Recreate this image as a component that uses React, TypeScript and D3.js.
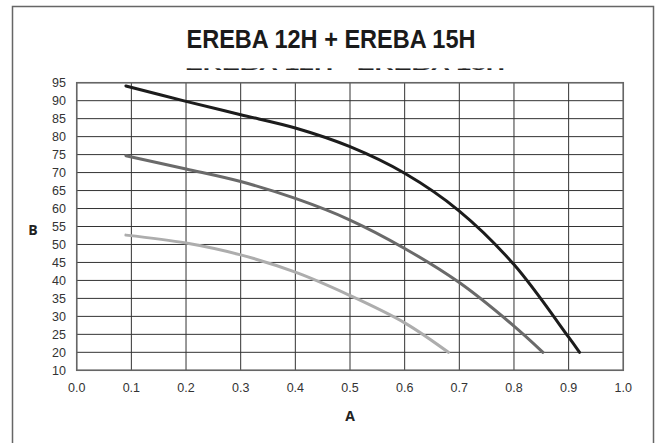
import { useEffect, useRef } from "react";
import * as d3 from "d3";

type Pt = { x: number; y: number };

const xTicks = [0, 0.1, 0.2, 0.3, 0.4, 0.5, 0.6, 0.7, 0.8, 0.9, 1.0];
const yTicks = [10, 20, 25, 30, 35, 40, 45, 50, 55, 60, 65, 70, 75, 80, 85, 90, 95];

// curves
const blackCurve: Pt[] = [
  { x: 0.09, y: 94.1 },
  { x: 0.2, y: 89.8 },
  { x: 0.3, y: 86.1 },
  { x: 0.4, y: 82.4 },
  { x: 0.5, y: 77.2 },
  { x: 0.6, y: 69.8 },
  { x: 0.7, y: 59.3 },
  { x: 0.8, y: 44.4 },
  { x: 0.9, y: 24.2 },
  { x: 0.92, y: 20 },
];
const darkCurve: Pt[] = [
  { x: 0.09, y: 74.7 },
  { x: 0.2, y: 71.0 },
  { x: 0.3, y: 67.5 },
  { x: 0.4, y: 62.8 },
  { x: 0.5, y: 56.8 },
  { x: 0.6, y: 48.9 },
  { x: 0.7, y: 39.4 },
  { x: 0.8, y: 27.3 },
  { x: 0.853, y: 20 },
];
const lightCurve: Pt[] = [
  { x: 0.09, y: 52.6 },
  { x: 0.2, y: 50.4 },
  { x: 0.3, y: 47.1 },
  { x: 0.4, y: 42.3 },
  { x: 0.5, y: 35.8 },
  { x: 0.6, y: 28.2 },
  { x: 0.68, y: 20 },
];

const series = [
  { data: blackCurve, color: "#1c1c1c" },
  { data: darkCurve, color: "#6a6a6a" },
  { data: lightCurve, color: "#adadad" },
];

export default function App() {
  const svgRef = useRef<SVGSVGElement>(null);

  useEffect(() => {
    const width = 662;
    const height = 443;
    const svg = d3.select(svgRef.current).attr("width", width).attr("height", height);
    svg.selectAll("*").remove();

    const left = 76.7, right = 623.3, top = 82.7, bottom = 370.3;
    const step = (bottom - top) / 16;

    const xScale = d3.scaleLinear().domain([0, 1]).range([left, right]);
    // y axis: 10 -> 20 takes the same room as one 5-step
    const yScale = d3.scaleLinear().domain([10, 20, 95]).range([bottom, bottom - step, top]);

    const font = "'Liberation Sans', Arial, sans-serif";

    // frame
    svg.append("rect")
      .attr("x", 12.5).attr("y", 6.5)
      .attr("width", 641).attr("height", 460)
      .attr("fill", "white").attr("stroke", "#666").attr("stroke-width", 1.5);

    // title
    svg.append("text")
      .attr("x", 331).attr("y", 48)
      .attr("text-anchor", "middle")
      .attr("font-family", font)
      .attr("font-weight", "bold")
      .attr("font-size", 26)
      .attr("textLength", 289)
      .attr("lengthAdjust", "spacingAndGlyphs")
      .attr("fill", "#1a1a1a")
      .text("EREBA 12H + EREBA 15H");

    // cut-off subtitle: only the bottom edge of the letters shows
    svg.append("text")
      .attr("x", 345).attr("y", 69.8)
      .attr("text-anchor", "middle")
      .attr("font-family", font)
      .attr("font-weight", "bold")
      .attr("font-size", 14)
      .attr("textLength", 320)
      .attr("lengthAdjust", "spacingAndGlyphs")
      .attr("fill", "#222")
      .text("EREBA 12H - EREBA 15H");
    svg.append("rect")
      .attr("x", 150).attr("y", 52)
      .attr("width", 380).attr("height", 16.3)
      .attr("fill", "white");

    // grid
    const grid = svg.append("g");
    grid.selectAll(".hl")
      .data(yTicks)
      .join("line")
      .attr("class", "hl")
      .attr("x1", left).attr("x2", right)
      .attr("y1", (d) => yScale(d)).attr("y2", (d) => yScale(d))
      .attr("stroke", "#333").attr("stroke-width", 1);
    grid.selectAll(".vl")
      .data(xTicks)
      .join("line")
      .attr("class", "vl")
      .attr("y1", top).attr("y2", bottom)
      .attr("x1", (d) => xScale(d)).attr("x2", (d) => xScale(d))
      .attr("stroke", "#333").attr("stroke-width", 1);
    svg.append("rect")
      .attr("x", left).attr("y", top)
      .attr("width", right - left).attr("height", bottom - top)
      .attr("fill", "none").attr("stroke", "#666").attr("stroke-width", 1.5);

    // tick labels
    svg.append("g").selectAll("text")
      .data(yTicks)
      .join("text")
      .attr("x", 66).attr("y", (d) => yScale(d) + 4.5)
      .attr("text-anchor", "end")
      .attr("font-family", font).attr("font-size", 12.5)
      .attr("fill", "#333")
      .text((d) => d);
    svg.append("g").selectAll("text")
      .data(xTicks)
      .join("text")
      .attr("x", (d) => xScale(d)).attr("y", 391.5)
      .attr("text-anchor", "middle")
      .attr("font-family", font).attr("font-size", 12.5)
      .attr("fill", "#333")
      .text((d) => d3.format(".1f")(d));

    // axis names
    svg.append("text")
      .attr("x", 33).attr("y", 235).attr("text-anchor", "middle")
      .attr("font-family", "'Open Sans', sans-serif").attr("font-weight", "bold").attr("font-size", 14)
      .attr("fill", "#222").text("B");
    svg.append("text")
      .attr("x", 350).attr("y", 421).attr("text-anchor", "middle")
      .attr("font-family", "'Open Sans', sans-serif").attr("font-weight", "bold").attr("font-size", 14)
      .attr("fill", "#222").text("A");

    // curves
    const lineGen = d3.line<Pt>()
      .x((d) => xScale(d.x))
      .y((d) => yScale(d.y))
      .curve(d3.curveCatmullRom.alpha(0.5));

    svg.append("g").selectAll("path")
      .data(series)
      .join("path")
      .attr("d", (s) => lineGen(s.data))
      .attr("fill", "none")
      .attr("stroke", (s) => s.color)
      .attr("stroke-width", 3)
      .attr("stroke-linecap", "round");
  }, []);

  return (
    <div style={{ position: "absolute", left: 0, top: 0 }}>
      <svg ref={svgRef} style={{ display: "block" }}></svg>
    </div>
  );
}
